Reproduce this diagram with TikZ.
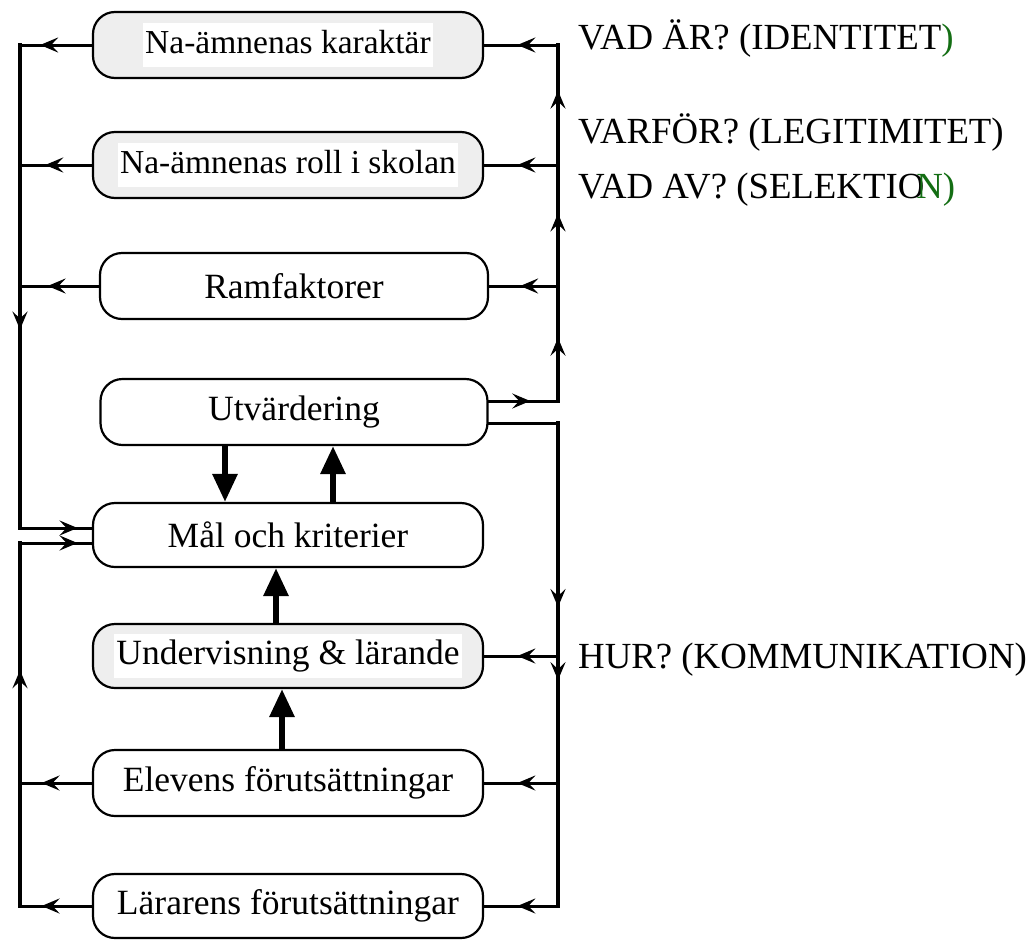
\documentclass[tikz,border=0pt]{standalone}
\usepackage{fontspec}
\setmainfont{Liberation Serif}
\usetikzlibrary{arrows.meta,decorations.markings}

\definecolor{boxgrey}{RGB}{238,238,238}
\definecolor{darkgrn}{RGB}{20,110,20}

\tikzset{
  box/.style={draw,line width=2.2pt,rounded corners=22pt,minimum width=390pt,
    minimum height=66pt,inner sep=0pt,font=\fontsize{35.5}{40}\selectfont},
  greybox/.style={box,fill=boxgrey},
  narrow/.style={font=\fontsize{33.5}{40}\selectfont},
  conn/.style={line width=3pt,line cap=rect},
  bus/.style={line width=4pt,line cap=rect},
  arr/.style={postaction={decorate},decoration={markings,
    mark=at position #1 with {\arrow{Stealth[length=18pt,width=15pt,inset=7pt]}}}},
  push/.style={line width=6pt,-{Triangle[length=28pt,width=24pt]}},
  ask/.style={anchor=base west,inner sep=0pt,font=\fontsize{36.8}{40}\selectfont}
}
\newcommand{\wbg}[1]{{\setlength{\fboxsep}{2pt}\colorbox{white}{\strut #1}}}

\begin{document}
\begin{tikzpicture}[x=1pt,y=-1pt]
  \useasboundingbox (0,0) rectangle (1036,940);

  \node[greybox,narrow] (kar) at (288,45) {\wbg{Na-ämnenas karaktär}};
  \node[greybox,narrow] (rol) at (288,165) {\wbg{Na-ämnenas roll i skolan}};
  \node[box,minimum width=388pt] (ram) at (294,286) {Ramfaktorer};
  \node[box,minimum width=387pt] (utv) at (294,412) {Utvärdering};
  \node[box,minimum height=64pt] (mal) at (288,535) {Mål och kriterier};
  \node[greybox,minimum height=64pt] (und) at (288,656) {\wbg{Undervisning \& lärande}};
  \node[box] (ele) at (288,783) {Elevens förutsättningar};
  \node[box,minimum height=64pt] (lar) at (288,906) {Lärarens förutsättningar};

  \node[ask] (q1) at (578,49) {VAD ÄR? (IDENTITET\textcolor{darkgrn}{)}};
  \node[ask] (q2) at (578,143) {VARFÖR? (LEGITIMITET)};
  \node[ask] (q3) at (578,198) {VAD AV? (SELEKTIO\kern-8pt\textcolor{darkgrn}{N)}};
  \node[ask] (q4) at (578,668) {HUR? (KOMMUNIKATION)};

  % junctions on the right
  \coordinate (r1) at (558,45);
  \coordinate (r2) at (558,165);
  \coordinate (r3) at (558,286);
  \coordinate (r4) at (558,401);
  \coordinate (r5) at (558,423);
  \coordinate (r6) at (558,656);
  \coordinate (r7) at (558,783);
  \coordinate (r8) at (558,906);
  % junctions on the left
  \coordinate (l1) at (20,45);
  \coordinate (l2) at (20,165);
  \coordinate (l3) at (20,286);
  \coordinate (l4) at (20,528);
  \coordinate (l5) at (20,543);
  \coordinate (l7) at (20,783);
  \coordinate (l8) at (20,906);

  % right side, upwards
  \draw[conn,arr=0.6] ([yshift=11pt]utv.east) -- (r4);
  \draw[bus,arr=0.55] (r4) -- (r3);
  \draw[bus,arr=0.6] (r3) -- (r2);
  \draw[bus,arr=0.62] (r2) -- (r1);
  \draw[conn,arr=0.55] (r1) -- (kar);
  \draw[conn,arr=0.55] (r2) -- (rol);
  \draw[conn,arr=0.55] (r3) -- (ram);

  % right side, downwards
  \draw[conn] ([yshift=-11pt]utv.east) -- (r5);
  \draw[bus,arr=0.79] (r5) -- (r6);
  \draw[bus,arr=0.19] (r6) -- (r7);
  \draw[bus] (r7) -- (r8);
  \draw[conn,arr=0.55] (r6) -- (und);
  \draw[conn,arr=0.55] (r7) -- (ele);
  \draw[conn,arr=0.55] (r8) -- (lar);

  % left side, upper loop
  \draw[conn,arr=0.72] (kar) -- (l1);
  \draw[conn,arr=0.65] (rol) -- (l2);
  \draw[conn,arr=0.65] (ram) -- (l3);
  \draw[bus] (l1) -- (l2);
  \draw[bus] (l2) -- (l3);
  \draw[bus,arr=0.18] (l3) -- (l4);
  \draw[conn,arr=0.8] (l4) -- (mal.west |- l4);

  % left side, lower loop
  \draw[conn,arr=0.7] (ele) -- (l7);
  \draw[conn,arr=0.7] (lar) -- (l8);
  \draw[bus] (l8) -- (l7);
  \draw[bus,arr=0.47] (l7) -- (l5);
  \draw[conn,arr=0.8] (l5) -- (mal.west |- l5);

  % thick arrows in the middle
  \draw[push] ([xshift=-69pt]utv.south) -- ([xshift=-63pt]mal.north);
  \draw[push] ([xshift=45pt]mal.north) -- ([xshift=39pt]utv.south);
  \draw[push] ([xshift=-12pt]und.north) -- ([xshift=-12pt]mal.south);
  \draw[push] ([xshift=-6pt]ele.north) -- ([xshift=-6pt]und.south);
\end{tikzpicture}
\end{document}
